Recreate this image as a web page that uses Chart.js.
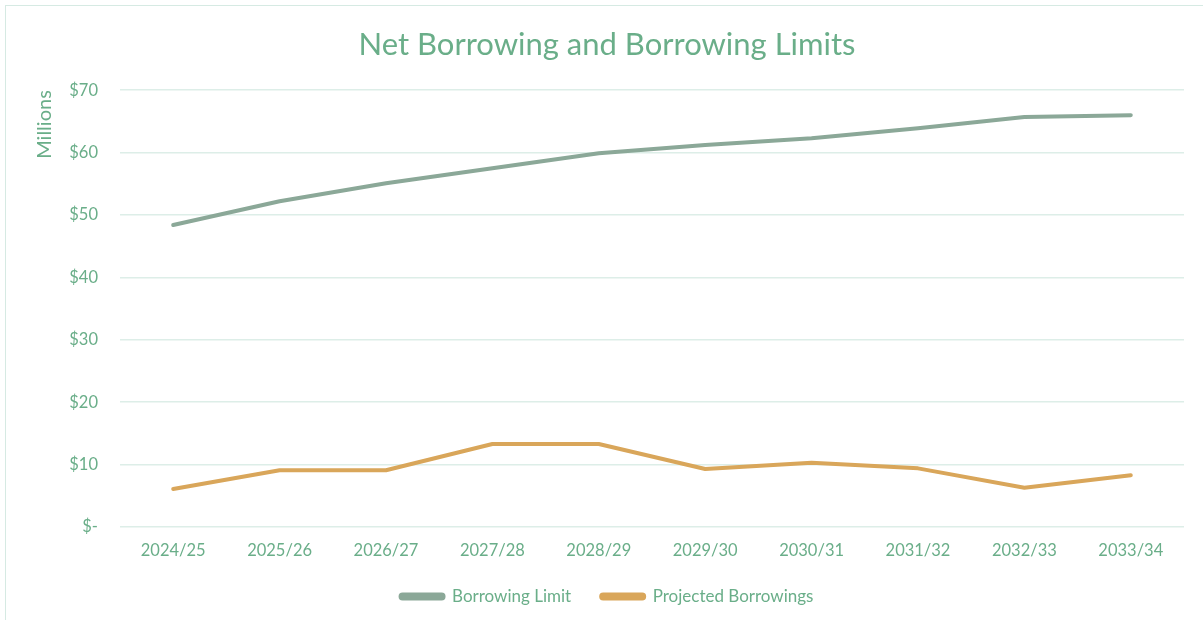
<!DOCTYPE html>
<html>
<head>
<meta charset="utf-8">
<script src="https://cdn.jsdelivr.net/npm/chart.js@4.4.1/dist/chart.umd.min.js"></script>
<style>
  html, body { margin: 0; padding: 0; background: #fff; overflow: hidden; }
  #wrap { position: relative; width: 1203px; height: 620px; }
  #frame { position: absolute; left: 5px; top: 5px; width: 1400px; height: 900px; border: 1px solid #D6EAE3; box-sizing: border-box; pointer-events: none; }
  canvas { position: absolute; left: 0; top: 0; }
</style>
</head>
<body>
<div id="wrap">
  <canvas id="c" width="1203" height="620"></canvas>
  <div id="frame"></div>
</div>
<script>
const categories = ["2024/25","2025/26","2026/27","2027/28","2028/29","2029/30","2030/31","2031/32","2032/33","2033/34"];
const borrowingLimit = [48.4, 52.2, 55.1, 57.5, 59.9, 61.2, 62.3, 63.9, 65.7, 66.0];
const projectedBorrowings = [6.1, 9.1, 9.1, 13.3, 13.3, 9.3, 10.3, 9.4, 6.3, 8.3];
const yTicks = [0, 10, 20, 30, 40, 50, 60, 70];

const TEXT = '#6AAE89';
const GRID = '#DDEEE8';
const FONT = 'Lato, "Open Sans", "Liberation Sans", sans-serif';

new Chart(document.getElementById('c'), {
  type: 'line',
  data: {
    labels: categories,
    datasets: [
      { label: 'Borrowing Limit', data: borrowingLimit, borderColor: '#8BA898', backgroundColor: '#8BA898',
        borderWidth: 4, pointRadius: 0, tension: 0, borderCapStyle: 'round', borderJoinStyle: 'round' },
      { label: 'Projected Borrowings', data: projectedBorrowings, borderColor: '#D9A65A', backgroundColor: '#D9A65A',
        borderWidth: 4, pointRadius: 0, tension: 0, borderCapStyle: 'round', borderJoinStyle: 'round' }
    ]
  },
  options: {
    responsive: false,
    animation: false,
    layout: { padding: { left: 30, right: 19, top: 0, bottom: 5 } },
    plugins: {
      title: { display: true, text: 'Net Borrowing and Borrowing Limits', color: TEXT,
        font: { family: FONT, size: 31, weight: 'normal' }, padding: { top: 26, bottom: 27 } },
      legend: { position: 'bottom',
        labels: { color: TEXT, font: { family: FONT, size: 17 }, boxWidth: 43, boxHeight: 4, padding: 30,
          useBorderRadius: true, borderRadius: 2 } },
      tooltip: { enabled: false }
    },
    scales: {
      x: {
        offset: true,
        grid: { display: false, drawTicks: false },
        border: { display: false },
        ticks: { color: TEXT, font: { family: FONT, size: 16.5 }, padding: 14, maxRotation: 0 },
        afterFit: (s) => { s.height = 31; }
      },
      y: {
        min: 0, max: 70,
        afterBuildTicks: (s) => { s.ticks = yTicks.map(v => ({ value: v })); },
        grid: { color: GRID, lineWidth: 1.5, drawTicks: false },
        border: { display: false },
        ticks: { color: TEXT, font: { family: FONT, size: 16.5 }, padding: 22,
          callback: (v) => v === 0 ? '$-' : '$' + v },
        title: { display: true, text: 'Millions', color: TEXT, align: 'end',
          font: { family: FONT, size: 20 }, padding: { top: 3, bottom: 0 } },
        afterFit: (s) => { s.width = 90; }
      }
    }
  }
});
</script>
</body>
</html>
